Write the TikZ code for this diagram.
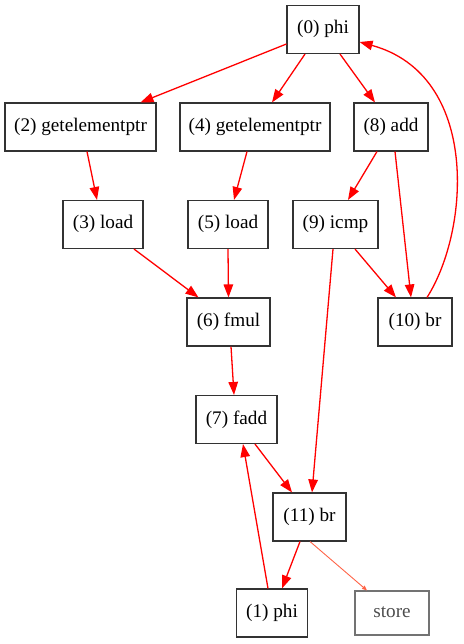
\documentclass[tikz,border=0pt]{standalone}
\usepackage{fontspec}
\setmainfont{Liberation Serif}
\usetikzlibrary{arrows.meta}
\definecolor{tomatoc}{HTML}{FF6347}
\begin{document}
\begin{tikzpicture}[x=1pt,y=-1pt,
  box/.style={draw=black!80,line width=1.1pt,rectangle,inner sep=0pt,minimum height=48pt,text height=13pt,text depth=4pt,font=\fontsize{19.2}{22}\selectfont},
  graybox/.style={draw=black!55,line width=1.1pt,rectangle,inner sep=0pt,minimum height=44pt,minimum width=74pt,text=black!70,text height=13pt,text depth=4pt,font=\fontsize{19.2}{22}\selectfont},
  edge/.style={draw=red,line width=1.3pt,-{Triangle[length=13pt,width=9.5pt]}},
  thinedge/.style={draw=tomatoc,line width=0.9pt,-{Triangle[length=5pt,width=4pt]}}]
\useasboundingbox (0,0) rectangle (463,644);
\node[box,minimum width=72pt] (n0) at (323,29.5) {(0) phi};
\node[box,minimum width=151pt] (n2) at (80.5,127) {(2) getelementptr};
\node[box,minimum width=150pt] (n4) at (255,127) {(4) getelementptr};
\node[box,minimum width=74pt] (n8) at (391,127) {(8) add};
\node[box,minimum width=80pt] (n3) at (103,224.5) {(3) load};
\node[box,minimum width=80pt] (n5) at (228,224.5) {(5) load};
\node[box,minimum width=85pt] (n9) at (335.5,224.5) {(9) icmp};
\node[box,minimum width=83pt] (n6) at (228.5,322) {(6) fmul};
\node[box,minimum width=74pt] (n10) at (415,322) {(10) br};
\node[box,minimum width=81pt] (n7) at (236.5,419.5) {(7) fadd};
\node[box,minimum width=73pt] (n11) at (309.5,517) {(11) br};
\node[box,minimum width=71pt] (n1) at (272,613) {(1) phi};
\node[graybox] (st) at (392,613) {store};

\draw[edge] ([yshift=-14.5pt]n0.west) -- ([xshift=60pt]n2.north);
\draw[edge] ([xshift=-18pt]n0.south) -- ([xshift=17pt]n4.north);
\draw[edge] ([xshift=17pt]n0.south) -- ([xshift=-16pt]n8.north);
\draw[edge] ([xshift=6.5pt]n2.south) -- ([xshift=-6pt]n3.north);
\draw[edge] ([xshift=-8pt]n4.south) -- ([xshift=6pt]n5.north);
\draw[edge] ([xshift=-14pt]n8.south) -- ([xshift=12.5pt]n9.north);
\draw[edge] ([xshift=4pt]n8.south) -- ([xshift=-4pt]n10.north);
\draw[edge] ([xshift=31pt]n3.south) -- ([xshift=-30pt]n6.north);
\draw[edge] (n5.south) -- (n6.north);
\draw[edge] ([xshift=19.5pt]n9.south) -- ([xshift=-19pt]n10.north);
\draw[edge] ([xshift=-2.5pt]n9.south) -- ([xshift=2.5pt]n11.north);
\draw[edge] ([xshift=12pt]n10.north) .. controls (470,230) and (480,75) .. ([yshift=-12.5pt]n0.east);
\draw[edge] ([xshift=2.5pt]n6.south) -- ([xshift=-2.5pt]n7.north);
\draw[edge] ([xshift=18.5pt]n7.south) -- ([xshift=-17.5pt]n11.north);
\draw[edge] ([xshift=-4pt]n1.north) -- ([xshift=6.5pt]n7.south);
\draw[edge] ([xshift=-9.5pt]n11.south) -- ([xshift=10pt]n1.north);
\draw[thinedge] ([xshift=0.5pt]n11.south) -- ([xshift=-25pt]st.north);
\end{tikzpicture}
\end{document}
